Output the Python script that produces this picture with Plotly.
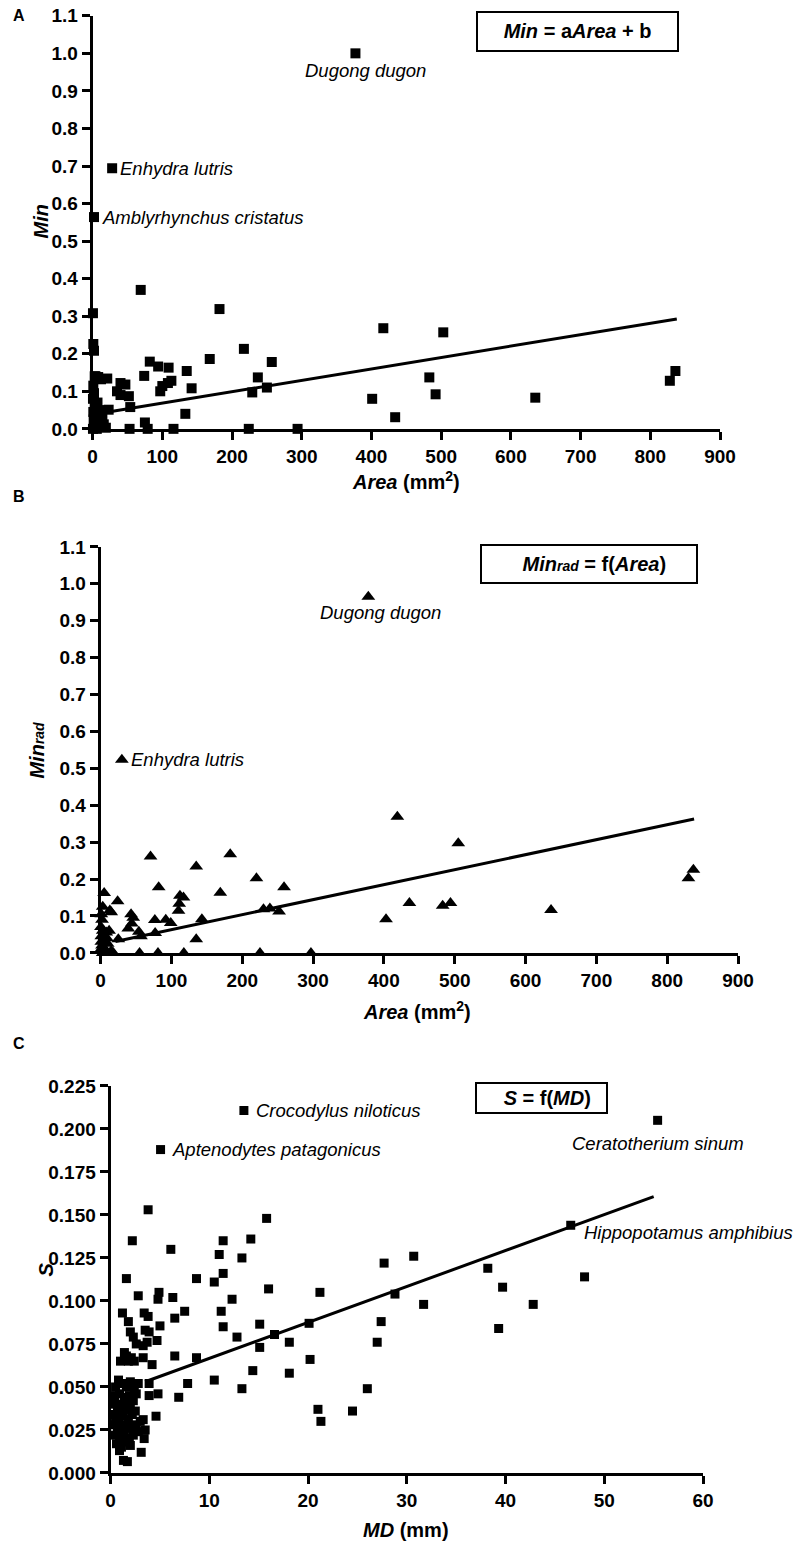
import plotly.graph_objects as go

W, H = 795, 1546

# ---------------- Panel A: Min vs Area ----------------
A_area = [69, 182, 417, 503, 0.5, 1, 2, 217, 168, 257, 82, 94, 109, 135, 74, 237, 113, 108, 100, 97,
          142, 250, 229, 40, 47, 35, 40, 52, 54, 23, 133, 401, 434, 53, 79, 116, 224, 294, 75, 4,
          8, 12, 21, 483, 492, 635, 828, 836,
          1, 2, 0.5, 3, 6, 1, 4, 9, 2, 12, 16, 6, 19, 0.5, 3, 14, 10, 7, 1.5]
A_min = [0.370, 0.319, 0.268, 0.257, 0.308, 0.226, 0.208, 0.213, 0.186, 0.178, 0.179, 0.166, 0.163, 0.154, 0.141, 0.137, 0.128, 0.122, 0.114, 0.100,
         0.108, 0.110, 0.097, 0.122, 0.118, 0.100, 0.090, 0.087, 0.058, 0.051, 0.040, 0.080, 0.031, 0, 0, 0, 0, 0, 0.017, 0.140,
         0.138, 0.132, 0.134, 0.137, 0.092, 0.083, 0.128, 0.154,
         0.115, 0.095, 0.080, 0.060, 0.058, 0.045, 0.030, 0.020, 0.010, 0.005, 0.012, 0.0, 0.003, 0.0, 0.140, 0.035, 0.050, 0.070, 0.025]
A_named = ["Dugong dugon", "Enhydra lutris", "Amblyrhynchus cristatus"]
A_named_area = [377, 28, 2]
A_named_min = [1.0, 0.694, 0.564]
A_fit = (0.000304, 0.038)   # slope, intercept
A_fit_range = [20, 838]

# ---------------- Panel B: Min_rad vs Area ----------------
B_area = [70.5, 183, 135, 220, 82, 169, 259, 112, 117, 111, 110, 5, 24, 3, 13, 15, 43, 46, 76.6, 92,
          99, 143, 230, 239, 252, 403, 39, 44, 54, 57, 77, 25, 135, 55, 81, 117.5, 225, 297, 419, 505,
          436, 483, 494, 636, 830, 837,
          1, 2, 0.5, 3, 8, 1, 5, 10, 2, 0.5, 15, 6, 18, 3, 12, 9, 1, 4]
B_minrad = [0.261, 0.267, 0.234, 0.202, 0.178, 0.163, 0.178, 0.155, 0.150, 0.133, 0.114, 0.162, 0.140, 0.125, 0.115, 0.110, 0.105, 0.095, 0.089, 0.090,
            0.081, 0.091, 0.118, 0.120, 0.112, 0.091, 0.066, 0.080, 0.057, 0.045, 0.054, 0.037, 0.037, 0, 0, 0, 0, 0, 0.369, 0.297,
            0.135, 0.128, 0.135, 0.116, 0.202, 0.225,
            0.105, 0.090, 0.070, 0.060, 0.055, 0.045, 0.035, 0.025, 0.020, 0.010, 0.005, 0.002, 0.0, 0.0, 0.060, 0.040, 0.030, 0.015]
B_named = ["Dugong dugon", "Enhydra lutris"]
B_named_area = [378, 30]
B_named_minrad = [0.965, 0.523]
B_fit = (0.000406, 0.0225)
B_fit_range = [21, 838]

# ---------------- Panel C: S vs MD ----------------
C_md = [3.8, 15.8, 2.2, 11.4, 14.2, 6.1, 11.0, 13.3, 27.7, 11.4, 1.6, 8.7, 10.5, 16.0, 4.9, 4.8, 21.2, 28.8, 2.8, 6.3,
        12.3, 1.2, 3.4, 3.8, 7.5, 11.2, 6.5, 1.8, 27.4, 20.1, 5.0, 15.1, 11.4, 2.0, 3.5, 3.9, 2.3, 12.8, 16.6, 4.7,
        2.6, 3.3, 3.7, 18.1, 27.0, 15.1, 3.3, 6.5, 8.7, 20.2, 1.0, 1.4, 1.8, 2.1, 2.4, 1.6, 4.2, 14.4, 18.1, 3.9,
        7.8, 10.5, 13.3, 26.0, 3.9, 4.8, 6.9, 21.0, 24.5, 21.3, 4.6, 3.3, 3.5, 3.4, 3.1, 1.3, 1.7, 30.7, 31.7, 38.2,
        39.7, 42.8, 39.3, 48.0,
        0.5, 0.8, 1.2, 1.6, 2.0, 2.4, 2.8, 0.4, 0.9, 1.4, 1.9, 2.3, 0.3, 0.7, 1.1, 1.5, 2.0, 2.5, 0.4, 0.8,
        1.3, 1.8, 2.2, 0.3, 0.7, 1.2, 1.6, 2.1, 2.6, 0.4, 0.9, 1.4, 1.9, 2.3, 0.6, 1.1, 1.5, 2.0, 0.9, 2.6,
        3.0, 2.8, 0.5, 1.0, 1.7]
C_s = [0.153, 0.148, 0.135, 0.135, 0.136, 0.130, 0.127, 0.125, 0.122, 0.116, 0.113, 0.113, 0.111, 0.107, 0.105, 0.101, 0.105, 0.104, 0.103, 0.102,
       0.101, 0.093, 0.093, 0.091, 0.094, 0.094, 0.090, 0.088, 0.088, 0.087, 0.0855, 0.0865, 0.085, 0.082, 0.083, 0.082, 0.079, 0.079, 0.0805, 0.077,
       0.075, 0.074, 0.076, 0.076, 0.076, 0.073, 0.067, 0.068, 0.067, 0.066, 0.065, 0.070, 0.065, 0.067, 0.065, 0.068, 0.063, 0.0595, 0.058, 0.052,
       0.052, 0.054, 0.049, 0.049, 0.045, 0.046, 0.044, 0.037, 0.036, 0.030, 0.033, 0.031, 0.025, 0.020, 0.012, 0.0073, 0.0066, 0.126, 0.098, 0.119,
       0.108, 0.098, 0.084, 0.114,
       0.050, 0.054, 0.052, 0.050, 0.053, 0.049, 0.052, 0.045, 0.046, 0.044, 0.045, 0.042, 0.040, 0.038, 0.040, 0.037, 0.038, 0.036, 0.034, 0.032,
       0.033, 0.031, 0.034, 0.028, 0.027, 0.028, 0.026, 0.027, 0.028, 0.022, 0.021, 0.022, 0.020, 0.022, 0.017, 0.015, 0.018, 0.016, 0.013, 0.046,
       0.030, 0.024, 0.031, 0.025, 0.041]
C_named = ["Crocodylus niloticus", "Aptenodytes patagonicus", "Ceratotherium sinum", "Hippopotamus amphibius"]
C_named_md = [13.5, 5.06, 55.4, 46.6]
C_named_s = [0.2107, 0.188, 0.205, 0.144]
C_fit = (0.00209, 0.0457)
C_fit_range = [3.5, 55.0]

# ---------------- layout helpers ----------------
# small correction so the rendered geometry lands where the reference has it
SX, OX = 0.9745, 4.3
SY, OY = 0.9863, 10.2

def px_x(p):
    return ((p - OX) / SX) / W

def px_y(p):
    return 1 - ((p - OY) / SY) / H

FONT = "Liberation Sans, Arial, sans-serif"

fig = go.Figure()

def add_panel(idx, xs, ys, nx, ny, fit, frange, symbol, msize):
    xa = "x" if idx == 1 else f"x{idx}"
    ya = "y" if idx == 1 else f"y{idx}"
    fig.add_trace(go.Scatter(x=xs + nx, y=ys + ny, mode="markers", xaxis=xa, yaxis=ya,
                             marker=dict(symbol=symbol, size=msize, color="black", line=dict(width=0)),
                             cliponaxis=False, showlegend=False, hoverinfo="x+y"))
    a, b = fit
    fig.add_trace(go.Scatter(x=frange, y=[a * v + b for v in frange], mode="lines", xaxis=xa, yaxis=ya,
                             line=dict(color="black", width=3), cliponaxis=False, showlegend=False))

add_panel(1, A_area, A_min, A_named_area, A_named_min, A_fit, A_fit_range, "square", 10)
add_panel(2, B_area, B_minrad, B_named_area, B_named_minrad, B_fit, B_fit_range, "triangle-up", 12)
add_panel(3, C_md, C_s, C_named_md, C_named_s, C_fit, C_fit_range, "square", 9)

axis_common = dict(showline=True, linewidth=3, linecolor="black", ticks="outside", ticklen=8, tickwidth=3,
                   tickcolor="black", showgrid=False, zeroline=False,
                   tickfont=dict(family=FONT, size=19, color="black", weight="bold"))

fig.update_layout(
    width=W, height=H, margin=dict(l=0, r=0, t=0, b=0),
    paper_bgcolor="white", plot_bgcolor="white",
    xaxis=dict(domain=[px_x(92), px_x(720)], range=[0, 900], dtick=100, anchor="y", **axis_common),
    yaxis=dict(domain=[px_y(429), px_y(16)], range=[0, 1.1], dtick=0.1, tickformat=".1f", anchor="x", **axis_common),
    xaxis2=dict(domain=[px_x(100), px_x(738)], range=[0, 900], dtick=100, anchor="y2", **axis_common),
    yaxis2=dict(domain=[px_y(953), px_y(547)], range=[0, 1.1], dtick=0.1, tickformat=".1f", anchor="x2", **axis_common),
    xaxis3=dict(domain=[px_x(110), px_x(703)], range=[0, 60], dtick=10, anchor="y3", **axis_common),
    yaxis3=dict(domain=[px_y(1473), px_y(1086)], range=[0, 0.225], dtick=0.025, tickformat=".3f", anchor="x3", **axis_common),
)

ann = []

def paper_text(text, x, y, size=20, xanchor="center", yanchor="middle", angle=0, **kw):
    ann.append(dict(text=text, x=px_x(x), y=px_y(y), xref="paper", yref="paper", showarrow=False,
                    xanchor=xanchor, yanchor=yanchor, textangle=angle,
                    font=dict(family=FONT, size=size, color="black"), **kw))

# panel letters
paper_text("<b>A</b>", 18, 16, size=16)
paper_text("<b>B</b>", 18, 497, size=16)
paper_text("<b>C</b>", 18, 1044, size=16)

# axis titles
paper_text("<b><i>Area</i> (mm<sup>2</sup>)</b>", 406, 481)
paper_text("<b><i>Min</i></b>", 40, 222, angle=-90)
paper_text("<b><i>Area</i> (mm<sup>2</sup>)</b>", 417, 1011)
paper_text("<b><i>Min</i><span style='font-size:14px'><i>rad</i></span></b>", 36, 750, angle=-90)
paper_text("<b><i>MD</i> (mm)</b>", 406, 1530)
paper_text("<b><i>S</i></b>", 45, 1270, angle=-90)

# equation boxes
def box(text, x0, y0, x1, y1, size=20):
    ann.append(dict(text=text, x=px_x((x0 + x1) / 2), y=px_y((y0 + y1) / 2), xref="paper", yref="paper",
                    showarrow=False, xanchor="center", yanchor="middle",
                    width=(x1 - x0) / SX - 6, height=(y1 - y0) / SY - 6, borderpad=1,
                    bordercolor="black", borderwidth=2, bgcolor="white",
                    font=dict(family=FONT, size=size, color="black")))

box("<b><i>Min</i> = a<i>Area</i> + b</b>", 478, 12, 676, 52)
box("<b>  <i>Min</i><span style='font-size:14px'><i>rad</i></span> = f(<i>Area</i>)</b>", 483, 545, 695, 584)
box("<b>  <i>S</i> = f(<i>MD</i>)</b>", 476, 1082, 606, 1114)

# species labels
def species(text, x, y, xa, ya, xanchor, xshift, yshift):
    ann.append(dict(text=f"<i>{text}</i>", x=x, y=y, xref=xa, yref=ya, showarrow=False,
                    xanchor=xanchor, yanchor="middle", xshift=xshift, yshift=yshift,
                    font=dict(family=FONT, size=18.5, color="black")))

species(A_named[0], A_named_area[0], A_named_min[0], "x", "y", "center", 10, -17)
species(A_named[1], A_named_area[1], A_named_min[1], "x", "y", "left", 6, 0)
species(A_named[2], A_named_area[2], A_named_min[2], "x", "y", "left", 6, 0)
species(B_named[0], B_named_area[0], B_named_minrad[0], "x2", "y2", "center", 12, -16)
species(B_named[1], B_named_area[1], B_named_minrad[1], "x2", "y2", "left", 7, 0)
species(C_named[0], C_named_md[0], C_named_s[0], "x3", "y3", "left", 10, 0)
species(C_named[1], C_named_md[1], C_named_s[1], "x3", "y3", "left", 9, 0)
species(C_named[2], C_named_md[2], C_named_s[2], "x3", "y3", "center", 0, -23)
species(C_named[3], C_named_md[3], C_named_s[3], "x3", "y3", "left", 11, -7)

fig.update_layout(annotations=ann)
fig.write_html("out.html", config={"displayModeBar": False},
               post_script="document.body.style.margin='0';")
